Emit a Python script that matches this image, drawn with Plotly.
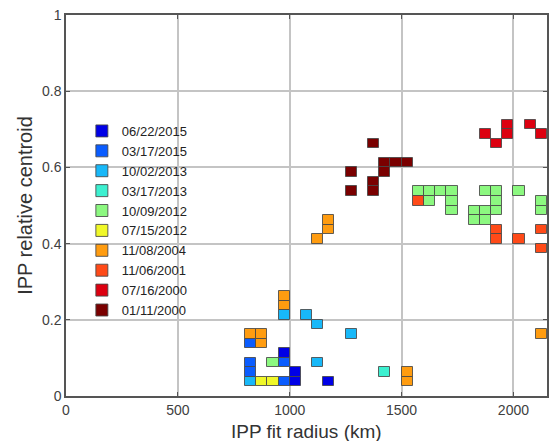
import plotly.graph_objects as go

# Binned IPP detections: bin centres (fit radius in km, relative centroid)
dates = ["06/22/2015", "03/17/2015", "10/02/2013", "03/17/2013", "10/09/2012",
         "07/15/2012", "11/08/2004", "11/06/2001", "07/16/2000", "01/11/2000"]

colors = ["#0000E6", "#0A5CFF", "#18B8F8", "#3CF0D0", "#8CF880",
          "#F0F828", "#FF9C10", "#FF4A18", "#DC0010", "#7A0000"]

radius_20150622 = [975, 1025, 1025, 1175]
centroid_20150622 = [0.1125, 0.0625, 0.0375, 0.0375]

radius_20150317 = [825, 825, 825, 975, 975]
centroid_20150317 = [0.1375, 0.0875, 0.0625, 0.0875, 0.0375]

radius_20131002 = [975, 1075, 1125, 1275, 825, 1125]
centroid_20131002 = [0.2125, 0.2125, 0.1875, 0.1625, 0.0375, 0.0875]

radius_20130317 = [1425]
centroid_20130317 = [0.0625]

radius_20121009 = [925,
                   1575, 1625, 1675, 1725, 1875, 1925, 2025,
                   1625, 1725, 1925, 2125,
                   1725, 1825, 1875, 1925, 2125,
                   1825, 1875]
centroid_20121009 = [0.0875,
                     0.5375, 0.5375, 0.5375, 0.5375, 0.5375, 0.5375, 0.5375,
                     0.5125, 0.5125, 0.5125, 0.5125,
                     0.4875, 0.4875, 0.4875, 0.4875, 0.4875,
                     0.4625, 0.4625]

radius_20120715 = [875, 925]
centroid_20120715 = [0.0375, 0.0375]

radius_20041108 = [975, 975, 825, 875, 875, 1525, 1525, 2125, 1125, 1175, 1175]
centroid_20041108 = [0.2625, 0.2375, 0.1625, 0.1625, 0.1375, 0.0625, 0.0375,
                     0.1625, 0.4125, 0.4375, 0.4625]

radius_20011106 = [1575, 1925, 1925, 2025, 2125, 2125]
centroid_20011106 = [0.5125, 0.4375, 0.4125, 0.4125, 0.4375, 0.3875]

radius_20000716 = [1875, 1925, 1975, 1975, 2075, 2125]
centroid_20000716 = [0.6875, 0.6625, 0.7125, 0.6875, 0.7125, 0.6875]

radius_20000111 = [1375, 1425, 1475, 1525, 1275, 1425, 1375, 1275, 1375]
centroid_20000111 = [0.6625, 0.6125, 0.6125, 0.6125, 0.5875, 0.5875, 0.5625,
                     0.5375, 0.5375]

series = [
    (radius_20150622, centroid_20150622),
    (radius_20150317, centroid_20150317),
    (radius_20131002, centroid_20131002),
    (radius_20130317, centroid_20130317),
    (radius_20121009, centroid_20121009),
    (radius_20120715, centroid_20120715),
    (radius_20041108, centroid_20041108),
    (radius_20011106, centroid_20011106),
    (radius_20000716, centroid_20000716),
    (radius_20000111, centroid_20000111),
]

BIN_W = 50      # km
BIN_H = 0.025   # relative centroid

fig = go.Figure()
for name, color, (rad, cen) in zip(dates, colors, series):
    fig.add_trace(go.Bar(
        x=rad,
        y=[BIN_H] * len(rad),
        base=[c - BIN_H / 2 for c in cen],
        width=BIN_W,
        name=name,
        marker=dict(color=color, line=dict(color="rgba(70,70,70,0.85)", width=1)),
        hoverinfo="x+y+name",
    ))

font_family = "Liberation Sans, Arial, Helvetica, sans-serif"
axis_common = dict(
    showgrid=True, gridcolor="#c4c4c4", gridwidth=1.5,
    showline=True, linecolor="#555555", linewidth=1.5, mirror="ticks",
    ticks="inside", ticklen=4, tickcolor="#555555", tickwidth=1,
    zeroline=False,
    tickfont=dict(family=font_family, size=14, color="#404040"),
)

fig.update_layout(
    width=550, height=441,
    margin=dict(l=66, r=1, t=15, b=45),
    paper_bgcolor="white", plot_bgcolor="white",
    barmode="overlay",
    bargap=0,
    font=dict(family=font_family, color="#333333"),
    xaxis=dict(range=[0, 2150], tickvals=[0, 500, 1000, 1500, 2000],
               **axis_common),
    yaxis=dict(range=[0, 1], tickvals=[0, 0.2, 0.4, 0.6, 0.8, 1],
               ticktext=["0", "0.2", "0.4", "0.6", "0.8", "1"],
               title=dict(text="IPP relative centroid", standoff=4,
                          font=dict(family=font_family, size=20, color="#333333")),
               **axis_common),
    annotations=[dict(
        text="IPP fit radius (km)", xref="paper", yref="paper",
        x=0.5, y=-0.092, xanchor="center", yanchor="middle", showarrow=False,
        font=dict(family=font_family, size=19, color="#333333"),
    )],
    legend=dict(x=0.033, y=0.735, xanchor="left", yanchor="top",
                bgcolor="rgba(255,255,255,0)", borderwidth=0,
                font=dict(family=font_family, size=13, color="#222222"),
                traceorder="normal", itemclick=False),
)

fig.write_html("out.html")
